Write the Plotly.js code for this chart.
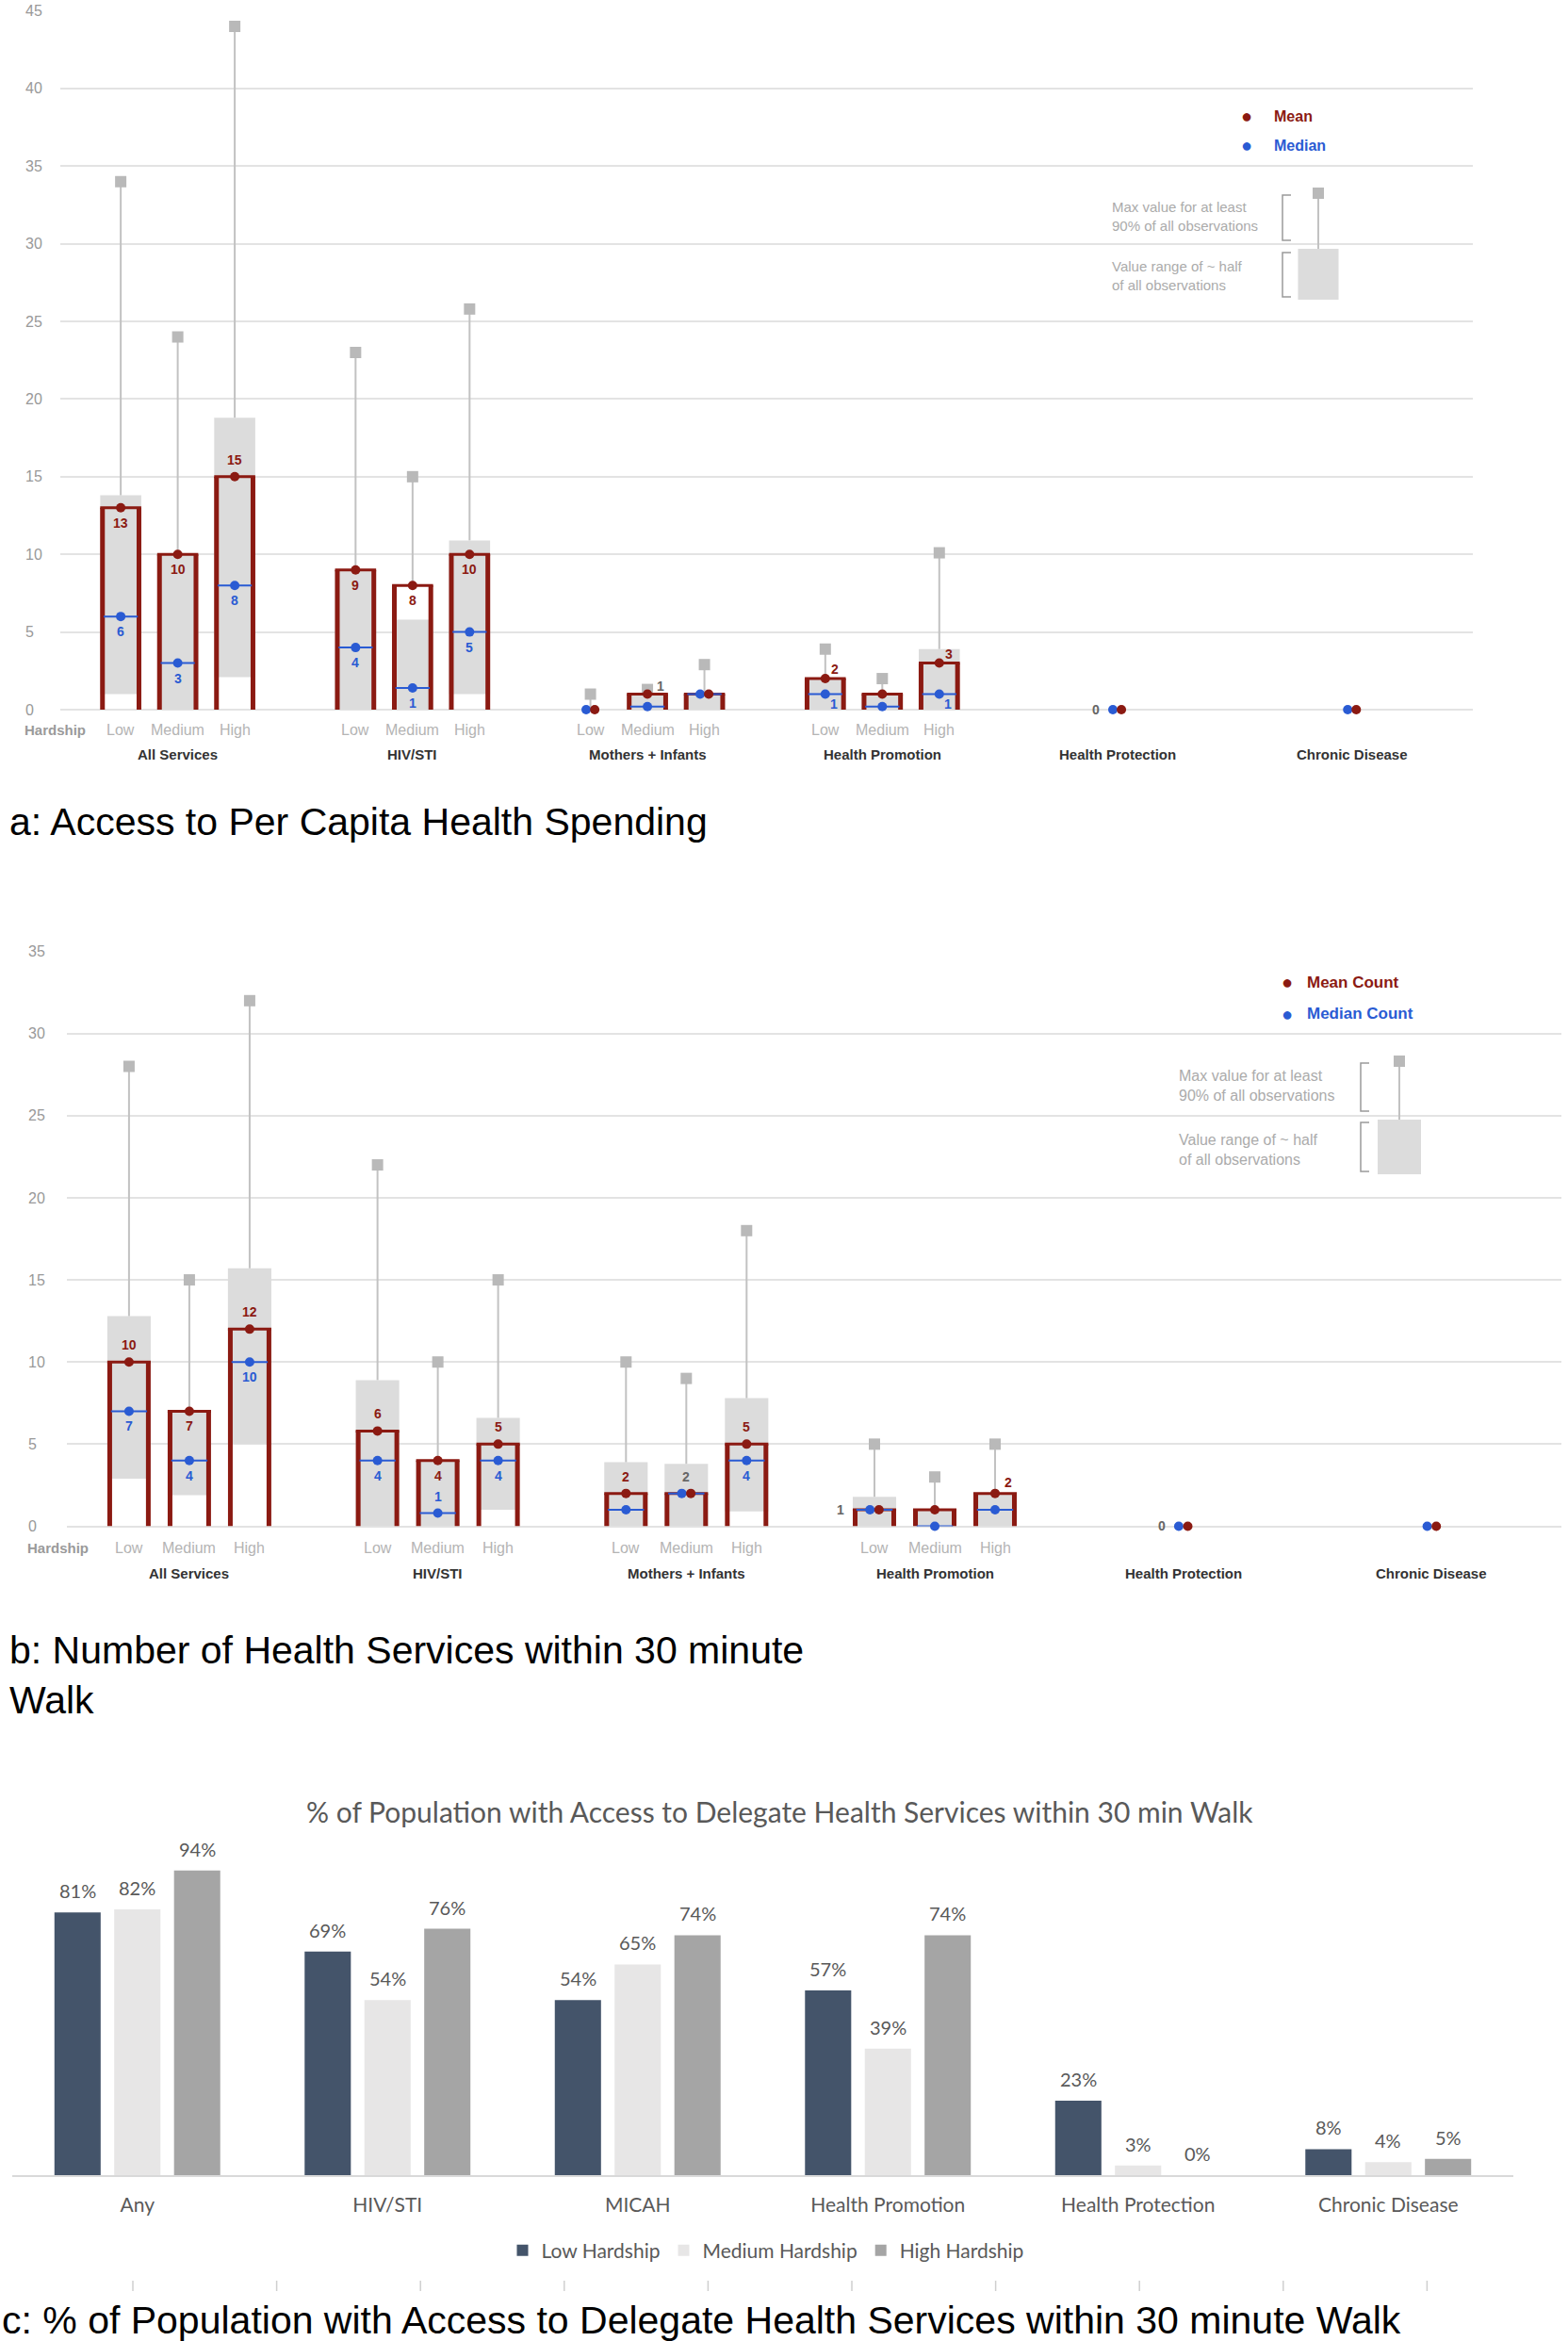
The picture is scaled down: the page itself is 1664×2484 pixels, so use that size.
<!DOCTYPE html>
<html>
<head>
<meta charset="utf-8">
<script src="https://cdn.plot.ly/plotly-3.0.1.min.js"></script>
<style>
  html, body { margin: 0; padding: 0; background: #fff; }
  #chart { width: 1664px; height: 2484px; }
</style>
</head>
<body>
<div id="chart"></div>
<script>
const W = 1664;
const H = 2484;

// ---- shared categories (panels a + b) ----
const groups = ["All Services", "HIV/STI", "Mothers + Infants", "Health Promotion", "Health Protection", "Chronic Disease"];
const levels = ["Low", "Medium", "High"];
const itemGroup = ["All Services", "All Services", "All Services", "HIV/STI", "HIV/STI", "HIV/STI",
  "Mothers + Infants", "Mothers + Infants", "Mothers + Infants",
  "Health Promotion", "Health Promotion", "Health Promotion", "Health Protection", "Chronic Disease"];
const itemLevel = ["Low", "Medium", "High", "Low", "Medium", "High", "Low", "Medium", "High",
  "Low", "Medium", "High", "Medium", "Medium"];

// ---- panel a: per capita health spending ----
const spendMean   = [13, 10, 15, 9, 8, 10, 0, 1, 1, 2, 1, 3, 0, 0];
const spendMedian = [6, 3, 8, 4, 1.4, 5, 0, 0.2, 1, 1, 0.2, 1, 0, 0];
const spendBoxLo  = [1, 0, 2.1, 0, 0, 1, 0, 0, 0, 0, 0, 0, 0, 0];
const spendBoxHi  = [13.8, 10, 18.8, 9, 5.8, 10.9, 0, 1, 1, 2, 1, 3.9, 0, 0];
const spendMax    = [34, 24, 44, 23, 15, 25.8, 1, 1.3, 2.9, 3.9, 2, 10.1, null, null];
// where the value labels sit (s below, n above, ne/se beside, g* grey, - none)
const spendMeanLbl   = ["s", "s", "n", "s", "s", "s", "-", "ge", "-", "ne", "-", "ne", "gw", "-"];
const spendMedianLbl = ["s", "s", "s", "s", "s", "s", "-", "-", "-", "se", "-", "se", "-", "-"];

// ---- panel b: services within 30 minute walk ----
const countMean   = [10, 7, 12, 5.8, 4, 5, 2, 2, 5, 1, 1, 2, 0, 0];
const countMedian = [7, 4, 10, 4, 0.8, 4, 1, 2, 4, 1, 0, 1, 0, 0];
const countBoxLo  = [2.9, 1.9, 5, 0, 0, 1, 0, 0, 0.9, 0, 0, 0, 0, 0];
const countBoxHi  = [12.8, 7, 15.7, 8.9, 4, 6.6, 3.9, 3.8, 7.8, 1.8, 1, 2, 0, 0];
const countMax    = [28, 15, 32, 22, 10, 15, 10, 9, 18, 5, 3, 5, null, null];
const countMeanLbl   = ["n", "s", "n", "n", "s", "n", "n", "gn", "n", "gW", "-", "ne2", "gw", "-"];
const countMedianLbl = ["s", "s", "s", "s", "n", "s", "-", "-", "s", "-", "-", "-", "-", "-"];

// ---- panel c: % of population with access ----
const accessCats = ["Any", "HIV/STI", "MICAH", "Health Promotion", "Health Protection", "Chronic Disease"];
const hardshipNames = ["Low Hardship", "Medium Hardship", "High Hardship"];
const accessLow    = [81, 69, 54, 57, 23, 8];
const accessMedium = [82, 54, 65, 39, 3, 4];
const accessHigh   = [94, 76, 74, 74, 0, 5];

// ---- styling ----
const RED = "#8b1a12";
const BLUE = "#2a5bd3";
const BOXGRAY = "#dcdcdc";
const WHISK = "#c2c2c2";
const SANS = "Liberation Sans, Arial, sans-serif";
const CAL = "Lato, Open Sans, sans-serif";
const GSTEP = 4.12;   // slot distance between groups
const HALF = 0.36;    // half box width (slots)
const SIDE = 0.04;
const INNER = 0.3;
const NUDGE = 0.075;

const px = x => x / W;
const py = y => 1 - y / H;
const xpos = (g, l) => groups.indexOf(g) * GSTEP + levels.indexOf(l);

const traces = [];
const annotations = [];
const shapes = [];

// paper-positioned text, anchored explicitly
function note(x, y, text, font, xanchor) {
  annotations.push({ xref: "paper", yref: "paper", x: px(x), y: py(y), xanchor: xanchor || "center", yanchor: "middle",
    align: "left", text: text, showarrow: false, font: font });
}

const LBL = {
  s: [0, -16, null], n: [0, 18, null], ne: [10, 10, null], ne2: [14, 12, null], se: [9, -10, null],
  gn: [0, 18, "#666"], ge: [14, 9, "#666"], gw: [-23, 0, "#666"], gW: [-36, 0, "#666"]
};

function boxPanel(p, xa, ya) {
  const xs = itemGroup.map((g, i) => xpos(g, itemLevel[i]));
  const idx = xs.map((_, i) => i);
  const common = { xaxis: xa, yaxis: ya, showlegend: false, hoverinfo: "skip", cliponaxis: false };

  const boxed = idx.filter(i => p.hi[i] > p.lo[i]);
  traces.push(Object.assign({
    type: "bar", x: boxed.map(i => xs[i]), y: boxed.map(i => p.hi[i] - p.lo[i]),
    base: boxed.map(i => p.lo[i]), width: 2 * HALF, marker: { color: BOXGRAY, line: { width: 0 } }
  }, common));

  const hasMax = idx.filter(i => p.max[i] != null);
  const wx = [], wy = [];
  hasMax.forEach(i => { wx.push(xs[i], xs[i], null); wy.push(Math.max(p.hi[i], p.mean[i]), p.max[i], null); });
  traces.push(Object.assign({ type: "scatter", mode: "lines", x: wx, y: wy, line: { color: WHISK, width: 2 } }, common));
  traces.push(Object.assign({
    type: "scatter", mode: "markers", x: hasMax.map(i => xs[i]), y: hasMax.map(i => p.max[i]),
    marker: { symbol: "square", size: 12, color: "#b9b9b9" }
  }, common));

  const framed = idx.filter(i => p.mean[i] > 0.05);
  const sx = [], sy = [], tx = [], ty = [], mx = [], my = [];
  framed.forEach(i => {
    const c = xs[i], m = p.mean[i];
    sx.push(c - HALF + SIDE, c - HALF + SIDE, null, c + HALF - SIDE, c + HALF - SIDE, null);
    sy.push(0, m, null, 0, m, null);
    tx.push(c - HALF, c + HALF, null);
    ty.push(m, m, null);
    mx.push(c - INNER, c + INNER, null);
    my.push(p.median[i], p.median[i], null);
  });
  traces.push(Object.assign({ type: "scatter", mode: "lines", x: sx, y: sy, line: { color: RED, width: 5 } }, common));
  traces.push(Object.assign({ type: "scatter", mode: "lines", x: tx, y: ty, line: { color: RED, width: 3 } }, common));
  traces.push(Object.assign({ type: "scatter", mode: "lines", x: mx, y: my, line: { color: BLUE, width: 2 } }, common));

  const close = i => Math.abs(p.mean[i] - p.median[i]) < 0.35;
  traces.push(Object.assign({
    type: "scatter", mode: "markers", x: idx.map(i => xs[i] - (close(i) ? NUDGE : 0)), y: p.median,
    marker: { size: 10, color: BLUE }
  }, common));
  traces.push(Object.assign({
    type: "scatter", mode: "markers", x: idx.map(i => xs[i] + (close(i) ? NUDGE : 0)), y: p.mean,
    marker: { size: 10, color: RED }
  }, common));

  function label(vals, codes, color) {
    idx.forEach(i => {
      const spec = LBL[codes[i]];
      if (!spec) return;
      annotations.push({
        xref: xa, yref: ya, x: xs[i], y: vals[i], xshift: spec[0], yshift: spec[1],
        xanchor: "center", yanchor: "middle",
        text: String(Math.round(vals[i])), showarrow: false,
        font: { family: SANS, size: 14, color: spec[2] || color, weight: "bold" }
      });
    });
  }
  label(p.mean, p.meanLbl, RED);
  label(p.median, p.medianLbl, BLUE);

  // category rows under the axis
  const dom = ya + " domain";
  annotations.push({
    xref: "paper", yref: dom, x: px(p.left), xanchor: "left", y: 0, yanchor: "middle", yshift: p.row1,
    text: "Hardship", showarrow: false, font: { family: SANS, size: 15, color: "#9a9a9a", weight: "bold" }
  });
  groups.slice(0, 4).forEach(g => levels.forEach(l => annotations.push({
    xref: xa, yref: dom, x: xpos(g, l), xanchor: "center", y: 0, yanchor: "middle", yshift: p.row1, text: l, showarrow: false,
    font: { family: SANS, size: 16, color: "#b4b4b4" }
  })));
  groups.forEach(g => annotations.push({
    xref: xa, yref: dom, x: xpos(g, "Medium"), xanchor: "center", y: 0, yanchor: "middle", yshift: p.row2, text: g, showarrow: false,
    font: { family: SANS, size: 15, color: "#333", weight: "bold" }
  }));
}

function keyBox(k) {
  shapes.push({ type: "rect", xref: "paper", yref: "paper", x0: px(k.cx - 6), x1: px(k.cx + 6), y0: py(k.sq - 6), y1: py(k.sq + 6), fillcolor: "#b9b9b9", line: { width: 0 } });
  shapes.push({ type: "line", xref: "paper", yref: "paper", x0: px(k.cx), x1: px(k.cx), y0: py(k.sq + 6), y1: py(k.b0), line: { color: WHISK, width: 2 } });
  shapes.push({ type: "rect", xref: "paper", yref: "paper", x0: px(k.cx - k.bw / 2), x1: px(k.cx + k.bw / 2), y0: py(k.b0), y1: py(k.b1), fillcolor: BOXGRAY, line: { width: 0 } });
  [[k.br1a, k.br1b], [k.br2a, k.br2b]].forEach(([a, b]) => {
    shapes.push({
      type: "path", xref: "paper", yref: "paper",
      path: `M${px(k.bx + 9)},${py(a)} L${px(k.bx)},${py(a)} L${px(k.bx)},${py(b)} L${px(k.bx + 9)},${py(b)}`,
      line: { color: "#9a9a9a", width: 1.5 }
    });
  });
  note(k.tx, k.t1, "Max value for at least<br>90% of all observations", { family: SANS, size: k.fs, color: "#ababab" }, "left");
  note(k.tx, k.t2, "Value range of ~ half<br>of all observations", { family: SANS, size: k.fs, color: "#ababab" }, "left");
  [[k.meanName, RED, k.ly1], [k.medianName, BLUE, k.ly2]].forEach(([name, col, y]) => {
    note(k.dx, y, "●", { family: SANS, size: 20, color: col });
    note(k.lx, y, name, { family: SANS, size: k.lfs, color: col, weight: "bold" }, "left");
  });
}

boxPanel({ mean: spendMean, median: spendMedian, lo: spendBoxLo, hi: spendBoxHi, max: spendMax,
  meanLbl: spendMeanLbl, medianLbl: spendMedianLbl, left: 24, row1: -21, row2: -47 }, "x", "y");
boxPanel({ mean: countMean, median: countMedian, lo: countBoxLo, hi: countBoxHi, max: countMax,
  meanLbl: countMeanLbl, medianLbl: countMedianLbl, left: 27, row1: -23, row2: -50 }, "x2", "y2");

keyBox({ cx: 1399, sq: 205, b0: 264, b1: 318, bw: 43, bx: 1361, br1a: 207, br1b: 255, br2a: 268, br2b: 315,
  tx: 1178, t1: 230, t2: 293, fs: 15, meanName: "Mean", medianName: "Median", dx: 1323, lx: 1350, ly1: 123, ly2: 154, lfs: 16 });
keyBox({ cx: 1485, sq: 1126, b0: 1188, b1: 1246, bw: 46, bx: 1444, br1a: 1128, br1b: 1179, br2a: 1191, br2b: 1243,
  tx: 1249, t1: 1152, t2: 1220, fs: 16, meanName: "Mean Count", medianName: "Median Count", dx: 1366, lx: 1385, ly1: 1042, ly2: 1076, lfs: 17 });

// ---- panel c bars ----
const hardColors = ["#44546a", "#e7e6e6", "#a5a5a5"];
[accessLow, accessMedium, accessHigh].forEach((vals, k) => {
  traces.push({
    type: "bar", name: hardshipNames[k], x: accessCats, y: vals, xaxis: "x3", yaxis: "y3",
    marker: { color: hardColors[k] }, hoverinfo: "skip"
  });
  vals.forEach((v, ci) => annotations.push({
    xref: "x3", yref: "y3", x: ci + (k - 1) * 0.239, y: v, xanchor: "center", yanchor: "bottom", yshift: 9,
    text: v + "%", showarrow: false, font: { family: CAL, size: 20, color: "#595959" }
  }));
});

note(827, 1922, "% of Population with Access to Delegate Health Services within 30 min Walk", { family: CAL, size: 30, color: "#595959" });

// faint tick marks left below chart c
for (let k = 0; k < 10; k++) {
  const x = 141 + k * 152.6;
  shapes.push({ type: "line", xref: "paper", yref: "paper", x0: px(x), x1: px(x), y0: py(2420), y1: py(2431), line: { color: "#cfcfcf", width: 1.5 } });
}

// captions
note(8, 872, "a: Access to Per Capita Health Spending", { family: SANS, size: 41, color: "#000" }, "left");
note(8, 1777, "b: Number of Health Services within 30 minute<br>Walk", { family: SANS, size: 41, color: "#000" }, "left");
note(0, 2462, "c: % of Population with Access to Delegate Health Services within 30 minute Walk", { family: SANS, size: 41, color: "#000" }, "left");

const yGrid = {
  showgrid: true, gridcolor: "#e3e3e3", gridwidth: 2, zeroline: true, zerolinecolor: "#e3e3e3", zerolinewidth: 2,
  dtick: 5, tick0: 0, ticks: "", ticklabelposition: "inside", ticklabeloverflow: "allow",
  tickfont: { family: SANS, size: 16, color: "#999" }, fixedrange: true
};
const xHidden = { showgrid: false, zeroline: false, showticklabels: false, ticks: "", fixedrange: true };

const layout = {
  width: W, height: H,
  margin: { l: 0, r: 0, t: 0, b: 0 },
  paper_bgcolor: "#fff", plot_bgcolor: "rgba(0,0,0,0)",
  barmode: "group", bargap: 0.283, bargroupgap: 0.227,
  showlegend: true,
  legend: { orientation: "h", x: px(813), xanchor: "center", y: py(2388), yanchor: "middle",
    font: { family: CAL, size: 21, color: "#595959" }, bgcolor: "rgba(0,0,0,0)", itemwidth: 30 },
  xaxis: Object.assign({ domain: [px(64), px(1563)], range: [-1.06, 23.72], anchor: "y" }, xHidden),
  yaxis: Object.assign({ domain: [py(753), py(11.5)], range: [0, 45], anchor: "x", ticklabelstandoff: -40 }, yGrid),
  xaxis2: Object.assign({ domain: [px(71), px(1657)], range: [-1.03, 23.75], anchor: "y2" }, xHidden),
  yaxis2: Object.assign({ domain: [py(1619.5), py(1009.5)], range: [0, 35], anchor: "x2", ticklabelstandoff: -44 }, yGrid),
  xaxis3: { domain: [px(13), px(1606)], anchor: "y3", type: "category", showline: true, linecolor: "#d9d9d9", linewidth: 2,
    showgrid: false, zeroline: false, ticks: "", ticklabelstandoff: 12, tickfont: { family: CAL, size: 21, color: "#595959" }, fixedrange: true },
  yaxis3: { domain: [py(2308), py(1964)], anchor: "x3", range: [0, 100], visible: false, fixedrange: true },
  annotations: annotations,
  shapes: shapes
};

Plotly.newPlot("chart", traces, layout, { displayModeBar: false, staticPlot: true });
</script>
</body>
</html>
